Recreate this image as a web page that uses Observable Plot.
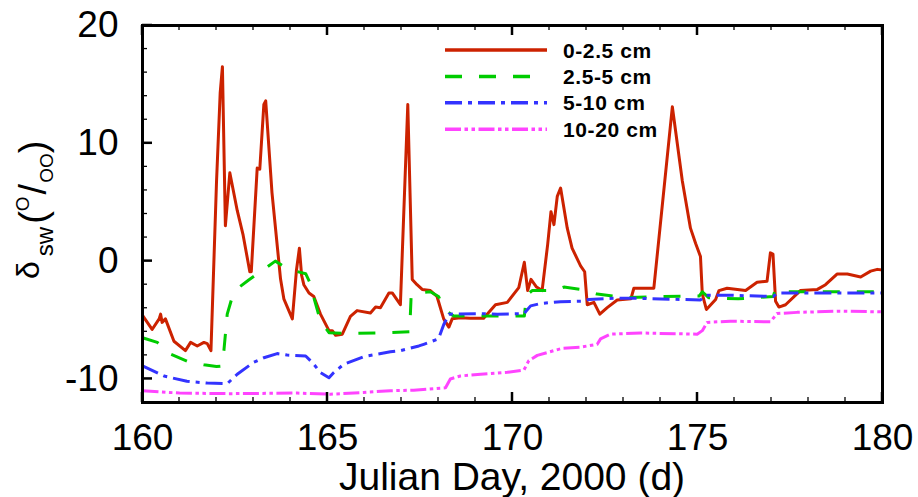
<!DOCTYPE html>
<html><head><meta charset="utf-8">
<script src="https://cdn.jsdelivr.net/npm/d3@7"></script>
<script src="https://cdn.jsdelivr.net/npm/@observablehq/plot@0.6"></script>
<style>body{margin:0;background:#fff} #chart{width:918px;height:497px}</style>
</head><body><div id="chart"></div>
<script>
const seriesNames = ["0-2.5 cm", "2.5-5 cm", "5-10 cm", "10-20 cm"];
const seriesColors = ["#cc2200", "#00cc00", "#3333ff", "#ff44ff"];
const seriesDash = [null, "17,17", "17,6,4,6", "16,3.5,3.5,3.5,3.5,3.5"];
const xMajorTicks = [160, 165, 170, 175, 180];
const yMajorTicks = [-10, 0, 10, 20];
const xTitle = "Julian Day, 2000 (d)";

// [Julian day, delta value]
const s0_25 = [[160.0,-4.6],[160.26,-5.8],[160.45,-4.9],[160.49,-4.5],[160.53,-5.2],[160.62,-4.9],[160.85,-6.8],[161.16,-7.6],[161.3,-6.9],[161.48,-7.2],[161.66,-6.9],[161.75,-7.0],[161.85,-7.6],[162.0,6.7],[162.1,14.3],[162.16,16.5],[162.24,3.0],[162.36,7.5],[162.56,4.3],[162.72,2.2],[162.9,-0.9],[162.94,-0.9],[163.1,7.9],[163.17,7.8],[163.28,13.3],[163.33,13.6],[163.5,5.8],[163.73,-1.5],[163.82,-3.2],[164.05,-4.9],[164.16,-0.8],[164.24,1.1],[164.3,-1.2],[164.36,-2.0],[164.5,-2.7],[164.63,-3.0],[164.81,-4.5],[165.04,-5.9],[165.13,-5.9],[165.22,-6.3],[165.4,-6.2],[165.62,-4.7],[165.8,-4.2],[166.16,-4.4],[166.3,-3.9],[166.43,-3.95],[166.66,-2.7],[166.75,-2.7],[166.97,-3.7],[167.17,13.3],[167.29,-1.55],[167.42,-2.0],[167.56,-2.4],[167.78,-2.5],[167.96,-3.0],[168.14,-4.9],[168.28,-5.6],[168.37,-4.9],[168.59,-4.8],[168.86,-4.85],[169.22,-4.85],[169.54,-3.7],[169.86,-3.5],[170.17,-2.25],[170.32,-0.1],[170.41,-2.5],[170.5,-1.55],[170.65,-2.2],[170.8,-2.5],[170.95,1.4],[171.04,4.2],[171.12,3.1],[171.21,5.5],[171.3,6.2],[171.48,2.8],[171.61,1.1],[171.84,-0.4],[171.95,-0.9],[172.02,-3.7],[172.2,-3.5],[172.36,-4.5],[172.56,-3.95],[172.83,-3.3],[173.2,-3.2],[173.28,-2.3],[173.82,-2.3],[174.32,13.1],[174.59,6.8],[174.81,2.8],[174.95,1.5],[175.08,0.4],[175.13,-2.8],[175.24,-4.1],[175.49,-3.25],[175.58,-2.5],[175.8,-2.3],[176.3,-2.5],[176.61,-1.8],[176.88,-1.7],[176.97,0.7],[177.04,0.6],[177.11,-3.4],[177.2,-3.9],[177.38,-3.7],[177.78,-2.5],[178.24,-2.4],[178.46,-2.0],[178.77,-1.1],[179.05,-1.1],[179.41,-1.35],[179.68,-0.85],[179.86,-0.7],[180.0,-0.75]];
const s25_5 = [[160.0,-6.5],[160.4,-6.9],[160.76,-7.9],[161.21,-8.5],[161.66,-8.8],[162.0,-8.95],[162.15,-8.9],[162.2,-7.6],[162.29,-4.5],[162.42,-3.1],[162.6,-2.25],[162.87,-1.6],[163.28,-0.7],[163.59,0.0],[163.95,-0.7],[164.41,-1.07],[164.52,-1.8],[164.65,-3.3],[164.81,-5.1],[165.04,-6.07],[165.53,-6.15],[166.7,-6.07],[167.22,-6.0],[167.26,-3.0],[167.38,-2.7],[167.78,-2.6],[168.0,-3.0],[168.19,-4.2],[168.41,-4.66],[170.32,-4.66],[170.38,-2.9],[170.53,-2.5],[171.12,-2.5],[171.39,-2.2],[171.84,-2.4],[172.29,-2.8],[173.1,-3.1],[174.0,-3.0],[175.05,-2.95],[175.13,-2.6],[175.3,-3.1],[176.1,-3.2],[177.05,-3.0],[177.1,-2.4],[177.2,-2.6],[177.87,-2.6],[180.0,-2.6]];
const s5_10 = [[160.0,-8.9],[160.58,-9.75],[161.2,-10.2],[161.75,-10.35],[162.29,-10.4],[162.56,-9.6],[163.0,-8.6],[163.28,-8.2],[163.64,-7.85],[163.91,-7.97],[164.41,-8.05],[164.59,-8.6],[164.81,-9.46],[165.04,-9.9],[165.17,-9.46],[165.44,-8.75],[165.99,-8.1],[166.7,-7.7],[166.97,-7.6],[167.47,-7.2],[167.6,-7.06],[168.0,-6.6],[168.14,-5.4],[168.28,-4.5],[169.14,-4.46],[169.59,-4.5],[170.31,-4.46],[170.49,-3.8],[170.76,-3.6],[171.3,-3.44],[171.93,-3.39],[172.06,-3.25],[172.74,-3.16],[173.46,-3.16],[175.08,-3.3],[175.22,-2.9],[175.9,-2.9],[177.05,-3.0],[177.16,-2.7],[180.0,-2.7]];
const s10_20 = [[160.0,-11.0],[161.0,-11.2],[162.4,-11.25],[164.18,-11.2],[165.08,-11.3],[165.97,-11.15],[166.7,-11.0],[167.33,-10.95],[168.19,-10.75],[168.32,-10.0],[168.59,-9.75],[169.14,-9.6],[169.86,-9.44],[170.31,-9.24],[170.44,-8.45],[170.67,-8.0],[171.12,-7.6],[171.34,-7.4],[171.84,-7.3],[172.29,-7.06],[172.38,-6.6],[172.65,-6.2],[173.46,-6.1],[174.99,-6.2],[175.13,-5.9],[175.26,-5.2],[175.89,-5.1],[176.97,-5.15],[177.15,-4.45],[177.69,-4.35],[178.77,-4.25],[180.0,-4.3]];
const seriesData = [s0_25, s25_5, s5_10, s10_20];

const W = 918, H = 497, mL = 142, mR = 36, mT = 25, mB = 95;
const font = "'Liberation Sans', Arial, Helvetica, sans-serif";
const minorX = d3.range(160, 181, 1), minorY = d3.range(-12, 21, 2);
const MAJ = 10, MIN = 5;

const plot = Plot.plot({
  width: W, height: H,
  marginLeft: mL, marginRight: mR, marginTop: mT, marginBottom: mB,
  style: {fontFamily: font, background: "#fff", color: "#000", overflow: "visible"},
  x: {domain: [160, 180]},
  y: {domain: [-12, 20]},
  marks: [
    ...seriesData.map((arr, i) => Plot.line(arr, {
      x: d => d[0], y: d => d[1], stroke: seriesColors[i], strokeWidth: 3,
      strokeDasharray: seriesDash[i], strokeLinecap: "butt", strokeLinejoin: "round"
    })),
    Plot.axisX(xMajorTicks, {anchor: "bottom", tickSize: 0, tickPadding: 21, fontSize: 37, tickFormat: d => String(d), label: null}),
    Plot.axisY(yMajorTicks, {anchor: "left", tickSize: 0, tickPadding: 24, fontSize: 37, tickFormat: d => String(d), label: null}),
    Plot.frame({stroke: "#000", strokeWidth: 3})
  ]
});
document.getElementById("chart").append(plot);

const svg = d3.select(plot);
const xs = plot.scale("x"), ys = plot.scale("y");
const x0 = xs.range[0], y0 = ys.range[0], y1 = ys.range[1];
const tg = svg.append("g").attr("stroke", "#000");
// inward ticks on bottom and top
minorX.forEach(v => {
  const major = xMajorTicks.includes(v), len = major ? MAJ : MIN, sw = major ? 2.5 : 1.3;
  const px = xs.apply(v);
  tg.append("line").attr("x1", px).attr("x2", px).attr("y1", y0).attr("y2", y0 - len).attr("stroke-width", sw);
  tg.append("line").attr("x1", px).attr("x2", px).attr("y1", y1).attr("y2", y1 + len).attr("stroke-width", sw);
});
// inward ticks on left
minorY.forEach(v => {
  const major = yMajorTicks.includes(v), len = major ? MAJ : MIN, sw = major ? 2.5 : 1.3;
  const py = ys.apply(v);
  tg.append("line").attr("x1", x0).attr("x2", x0 + len).attr("y1", py).attr("y2", py).attr("stroke-width", sw);
});

// x title
svg.append("text").attr("x", (mL + W - mR) / 2).attr("y", 490)
  .attr("text-anchor", "middle").attr("font-family", font).attr("font-size", 39).attr("fill", "#000")
  .text(xTitle);
// y title: δ_sw (^O/_OO)
const yt = svg.append("text").attr("transform", `translate(46,279) rotate(-90)`)
  .attr("text-anchor", "start")
  .attr("font-family", font).attr("font-size", 38).attr("fill", "#000");
yt.append("tspan").attr("font-size", 32).attr("dy", -7).text("δ");
yt.append("tspan").attr("font-size", 24).attr("dx", 5).attr("dy", 14).text("sw");
yt.append("tspan").attr("font-size", 38).attr("dx", 3).attr("dy", -7).text("(");
yt.append("tspan").attr("font-size", 19).attr("dy", -17).text("O");
yt.append("tspan").attr("font-size", 38).attr("dx", 2).attr("dy", 17).text("/");
yt.append("tspan").attr("font-size", 19).attr("dx", 1).attr("dy", 7).text("OO");
yt.append("tspan").attr("font-size", 38).attr("dy", -7).text(")");

// legend
const lg = svg.append("g");
seriesNames.forEach((name, i) => {
  const cy = 50 + i * 26.4;
  lg.append("line").attr("x1", 445).attr("x2", 547).attr("y1", cy).attr("y2", cy)
    .attr("stroke", seriesColors[i]).attr("stroke-width", 3.5)
    .attr("stroke-dasharray", seriesDash[i]).attr("stroke-linecap", "butt");
  lg.append("text").attr("x", 563).attr("y", cy).attr("dy", "0.36em")
    .attr("text-anchor", "start")
    .attr("font-family", font).attr("font-size", 21).attr("font-weight", "bold")
    .attr("letter-spacing", 0.6).attr("fill", "#000").text(name);
});
</script>
</body></html>
